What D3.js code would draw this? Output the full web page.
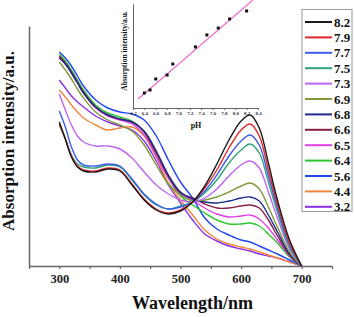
<!DOCTYPE html>
<html>
<head>
<meta charset="utf-8">
<script src="https://cdn.jsdelivr.net/npm/d3@7"></script>
<style>
  body { margin: 0; background: #fff; }
  svg { display: block; font-family: "Liberation Serif", "Times New Roman", serif; font-weight: bold; }
</style>
</head>
<body>
<svg id="chart" width="354" height="317"></svg>
<script>
// wavelength grid (nm) shared by every spectrum
var wavelengths = [300, 310, 320, 330, 340, 360, 380, 400, 420, 440, 460, 480, 500, 520, 540, 560, 580, 600, 615, 630, 645, 660, 680, 700]

// absorption (a.u.) per pH
var abs82 = [1.44,1.27,1.09,0.99,0.95,0.94,0.97,0.95,0.81,0.66,0.56,0.52,0.55,0.64,0.80,1.02,1.26,1.45,1.51,1.38,1.03,0.66,0.26,0]
var abs79 = [1.42,1.27,1.10,1.00,0.96,0.95,0.98,0.96,0.82,0.67,0.57,0.53,0.56,0.64,0.78,0.96,1.18,1.36,1.42,1.30,0.96,0.62,0.23,0]
var abs77 = [1.55,1.39,1.19,1.06,1.01,1.00,1.02,1.00,0.87,0.72,0.62,0.57,0.59,0.64,0.75,0.91,1.10,1.25,1.31,1.21,0.90,0.58,0.21,0]
var abs75 = [1.41,1.27,1.11,1.02,0.99,0.98,1.01,0.99,0.86,0.71,0.61,0.57,0.60,0.64,0.73,0.86,1.03,1.16,1.22,1.13,0.84,0.54,0.19,0]
var abs73 = [1.72,1.56,1.41,1.30,1.24,1.20,1.20,1.17,1.08,0.94,0.81,0.72,0.66,0.64,0.68,0.77,0.90,1.01,1.05,0.98,0.74,0.48,0.17,0]
var abs69 = [2.04,1.96,1.87,1.77,1.68,1.54,1.46,1.41,1.35,1.21,1.01,0.82,0.71,0.65,0.66,0.69,0.74,0.80,0.83,0.77,0.59,0.39,0.14,0]
var abs68 = [2.08,2.02,1.93,1.83,1.73,1.59,1.51,1.47,1.44,1.35,1.15,0.91,0.74,0.67,0.64,0.63,0.65,0.68,0.69,0.65,0.51,0.34,0.12,0]
var abs66 = [2.10,2.03,1.94,1.84,1.74,1.59,1.51,1.47,1.44,1.34,1.13,0.90,0.73,0.68,0.62,0.58,0.58,0.60,0.61,0.58,0.46,0.30,0.11,0]
var abs65 = [2.09,2.02,1.93,1.83,1.73,1.58,1.50,1.46,1.42,1.31,1.10,0.88,0.72,0.66,0.58,0.52,0.49,0.50,0.51,0.47,0.38,0.26,0.10,0]
var abs64 = [2.12,2.05,1.96,1.86,1.76,1.61,1.53,1.49,1.45,1.34,1.12,0.88,0.70,0.61,0.53,0.46,0.42,0.42,0.43,0.40,0.32,0.23,0.09,0]
var abs56 = [2.14,2.08,2.00,1.90,1.80,1.66,1.58,1.54,1.52,1.46,1.30,1.06,0.84,0.68,0.48,0.37,0.31,0.26,0.24,0.20,0.16,0.12,0.06,0]
var abs44 = [1.76,1.69,1.61,1.54,1.48,1.41,1.36,1.38,1.39,1.30,1.09,0.83,0.66,0.51,0.36,0.27,0.22,0.19,0.17,0.14,0.11,0.08,0.04,0]
var abs32 = [1.86,1.78,1.70,1.64,1.59,1.50,1.44,1.40,1.36,1.25,1.05,0.81,0.63,0.46,0.32,0.25,0.20,0.17,0.15,0.12,0.10,0.08,0.04,0]

var phLabels = ['8.2', '7.9', '7.7', '7.5', '7.3', '6.9', '6.8', '6.6', '6.5', '6.4', '5.6', '4.4', '3.2']
var spectra = [abs82, abs79, abs77, abs75, abs73, abs69, abs68, abs66, abs65, abs64, abs56, abs44, abs32]
var colors = ['#1a1a1a', '#e8262a', '#3d5ce8', '#2fa37a', '#c163f0', '#7f9a36', '#1c2a8c', '#8a1f45', '#e23ee6', '#2ec62e', '#1f46f0', '#f0863a', '#8a2fe6']

// inset: absorption at the peak vs pH, with the linear fit
var insetPH = [6.4, 6.5, 6.6, 6.8, 6.9, 7.3, 7.5, 7.7, 7.9, 8.2]
var insetAbs = [0.144, 0.173, 0.279, 0.317, 0.423, 0.587, 0.702, 0.769, 0.856, 0.933]
var fitPH = [6.29, 8.31]
var fitAbs = [0.087, 1.038]
var insetTicks = [6.2, 6.4, 6.6, 6.8, 7.0, 7.2, 7.4, 7.6, 7.8, 8.0, 8.2, 8.4]

var svg = d3.select('#chart')

var x = d3.scaleLinear().domain([250, 750]).range([29, 332])
var y = d3.scaleLinear().domain([0, 2.4]).range([266, 26])

// main axes
var xAxis = svg.append('g')
  .attr('transform', 'translate(0,266)')
  .call(d3.axisBottom(x)
    .tickValues(d3.range(250, 751, 50))
    .tickSize(3)
    .tickSizeOuter(0)
    .tickFormat(function(d) { return (d % 100 === 0 && d >= 300 && d <= 700) ? d : '' }))
xAxis.select('.domain').attr('stroke', '#666').attr('stroke-width', 1.5)
xAxis.selectAll('.tick line').attr('stroke', '#666').attr('stroke-width', 1.2)
xAxis.selectAll('.tick text')
  .attr('y', 8)
  .attr('fill', '#222')
  .style('font-size', '12.5px')
  .style('font-family', '"Liberation Serif", serif')
  .style('font-weight', 'bold')

var yAxis = svg.append('g')
  .attr('transform', 'translate(29,0)')
  .call(d3.axisLeft(y).ticks(0).tickSizeOuter(0))
yAxis.select('.domain').attr('stroke', '#666').attr('stroke-width', 1.5)

svg.append('text')
  .attr('x', x(520)).attr('y', 309)
  .attr('text-anchor', 'middle')
  .style('font-size', '18px')
  .attr('fill', '#111')
  .text('Wavelength/nm')

svg.append('text')
  .attr('transform', 'translate(14,141) rotate(-90)')
  .attr('text-anchor', 'middle')
  .style('font-size', '17px')
  .attr('fill', '#111')
  .text('Absorption intensity/a.u.')

// spectra
var line = d3.line()
  .x(function(d) { return x(d[0]) })
  .y(function(d) { return y(d[1]) })
  .curve(d3.curveCatmullRom.alpha(0.5))

spectra.slice().reverse().forEach(function(vals, j) {
  var i = spectra.length - 1 - j
  svg.append('path')
    .datum(wavelengths.map(function(w, k) { return [w, vals[k]] }))
    .attr('fill', 'none')
    .attr('stroke', colors[i])
    .attr('stroke-width', 1.4)
    .attr('d', line)
})

// legend
var legend = svg.append('g').attr('class', 'legend')
legend.append('rect')
  .attr('x', 302).attr('y', 9.5)
  .attr('width', 50).attr('height', 202)
  .attr('fill', '#fff')
  .attr('stroke', '#999')
  .attr('stroke-width', 1)
legend.selectAll('g.row').data(phLabels)
  .enter()
  .append('g')
  .attr('class', 'row')
  .each(function(d, i) {
    var g = d3.select(this)
    var cy = 22 + i * 15.4
    g.append('line')
      .attr('x1', 305).attr('x2', 332)
      .attr('y1', cy).attr('y2', cy)
      .attr('stroke', colors[i])
      .attr('stroke-width', 2)
    g.append('text')
      .attr('x', 334).attr('y', cy + 4.5)
      .style('font-size', '13px')
      .attr('fill', '#111')
      .text(d)
  })

// inset
var xi = d3.scaleLinear().domain([6.2, 8.4]).range([133, 258])
var yi = d3.scaleLinear().domain([0, 1]).range([108, 4])

var inX = svg.append('g')
  .attr('transform', 'translate(0,108)')
  .call(d3.axisBottom(xi)
    .tickValues(insetTicks)
    .tickSize(2)
    .tickSizeOuter(0)
    .tickFormat(d3.format('.1f')))
inX.select('.domain').attr('stroke', '#666')
inX.selectAll('.tick line').attr('stroke', '#666')
inX.selectAll('.tick text')
  .attr('y', 3)
  .attr('fill', '#333')
  .style('font-size', '5px')
  .style('font-family', '"Liberation Serif", serif')
  .style('font-weight', 'bold')

var inY = svg.append('g')
  .attr('transform', 'translate(133,0)')
  .call(d3.axisLeft(yi).ticks(0).tickSizeOuter(0))
inY.select('.domain').attr('stroke', '#666')

svg.append('text')
  .attr('x', 196).attr('y', 128)
  .attr('text-anchor', 'middle')
  .style('font-size', '8px')
  .attr('fill', '#111')
  .text('pH')

svg.append('text')
  .attr('transform', 'translate(127,51) rotate(-90)')
  .attr('text-anchor', 'middle')
  .style('font-size', '7.5px')
  .attr('fill', '#111')
  .text('Absorption intensity/a.u.')

svg.append('path')
  .datum(fitPH.map(function(p, k) { return [p, fitAbs[k]] }))
  .attr('fill', 'none')
  .attr('stroke', '#f06ac8')
  .attr('stroke-width', 1.2)
  .attr('d', d3.line().x(function(d) { return xi(d[0]) }).y(function(d) { return yi(d[1]) }))

svg.selectAll('rect.pt').data(insetPH)
  .enter()
  .append('rect')
  .attr('class', 'pt')
  .attr('x', function(d) { return xi(d) - 1.5 })
  .attr('y', function(d, i) { return yi(insetAbs[i]) - 1.5 })
  .attr('width', 3).attr('height', 3)
  .attr('fill', '#111')
</script>
</body>
</html>
